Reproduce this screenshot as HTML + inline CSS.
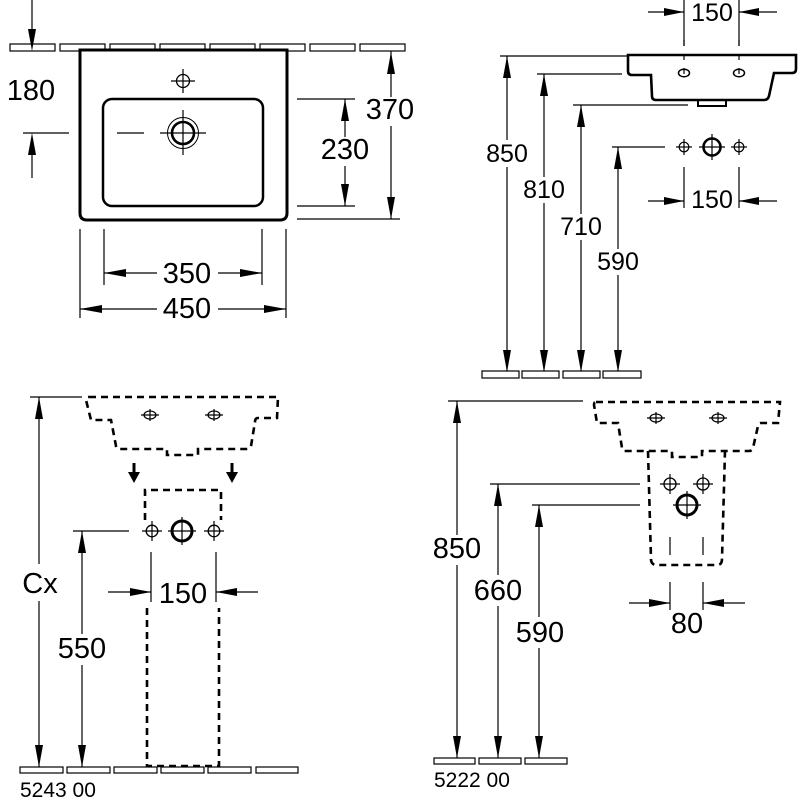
<!DOCTYPE html>
<html><head><meta charset="utf-8"><style>
html,body{margin:0;padding:0;background:#fff;}
svg{display:block;}
text{font-family:"Liberation Sans",Arial,sans-serif;fill:#000;}
</style></head><body>
<svg width="800" height="800" viewBox="0 0 800 800" xmlns="http://www.w3.org/2000/svg">
<rect width="800" height="800" fill="#fff"/>
<g stroke="#000" fill="none" stroke-width="1.2">
<!-- ===== TOP-LEFT: plan view ===== -->
<rect x="10" y="44" width="45" height="7" fill="#fff"/>
<rect x="60" y="44" width="45" height="7" fill="#fff"/>
<rect x="110" y="44" width="45" height="7" fill="#fff"/>
<rect x="160" y="44" width="45" height="7" fill="#fff"/>
<rect x="210" y="44" width="45" height="7" fill="#fff"/>
<rect x="260" y="44" width="45" height="7" fill="#fff"/>
<rect x="310" y="44" width="45" height="7" fill="#fff"/>
<rect x="360" y="44" width="45" height="7" fill="#fff"/>
<line x1="32" y1="0" x2="32" y2="32"/>
<!-- basin -->
<path d="M80 50 H287 V213 Q287 220 280 220 H87 Q80 220 80 213 Z" stroke-width="3" fill="#fff"/>
<rect x="103" y="99" width="160" height="107" rx="9" stroke-width="2.5"/>
<circle cx="183" cy="81" r="6.5" stroke-width="1.3"/>
<line x1="171" y1="81" x2="195" y2="81"/><line x1="183" y1="69" x2="183" y2="93"/>
<circle cx="183" cy="133" r="15.5" stroke-width="1"/>
<circle cx="183" cy="133" r="11" stroke-width="2.6"/>
<line x1="160" y1="133" x2="206" y2="133"/><line x1="183" y1="110" x2="183" y2="155"/>
<line x1="117" y1="133" x2="144" y2="133"/>
<line x1="23" y1="133" x2="69" y2="133"/>
<line x1="32" y1="150" x2="32" y2="178"/>
<!-- right dims -->
<line x1="297" y1="99" x2="355" y2="99"/>
<line x1="297" y1="206" x2="355" y2="206"/>
<line x1="297" y1="219" x2="400" y2="219"/>
<line x1="345" y1="99" x2="345" y2="137"/>
<line x1="345" y1="166" x2="345" y2="206"/>
<line x1="391" y1="51" x2="391" y2="97"/>
<line x1="391" y1="126" x2="391" y2="219"/>
<!-- bottom dims -->
<line x1="80" y1="229" x2="80" y2="318"/>
<line x1="104" y1="229" x2="104" y2="285"/>
<line x1="262" y1="229" x2="262" y2="285"/>
<line x1="286" y1="229" x2="286" y2="318"/>
<line x1="104" y1="273" x2="157" y2="273"/>
<line x1="218" y1="273" x2="262" y2="273"/>
<line x1="80" y1="309" x2="157" y2="309"/>
<line x1="218" y1="309" x2="286" y2="309"/>

<!-- ===== TOP-RIGHT: side view ===== -->
<line x1="684" y1="0" x2="684" y2="46"/>
<line x1="739" y1="0" x2="739" y2="46"/>
<line x1="648" y1="12" x2="684" y2="12"/>
<line x1="739" y1="12" x2="777" y2="12"/>
<path d="M628 55 H796 V69 Q796 73 792 73 H774 L769 96 Q768 100 764 100 H656 Q652 100 652 96 L651 75 H632 Q628 75 628 71 Z" stroke-width="2.6" fill="#fff"/>
<path d="M698 100 V106 H726 V100" stroke-width="2"/>
<line x1="684" y1="40" x2="684" y2="80" stroke-dasharray="6 8"/>
<line x1="739" y1="40" x2="739" y2="80" stroke-dasharray="6 8"/>
<ellipse cx="684" cy="73" rx="5.5" ry="3.8" stroke-width="1.5"/>
<ellipse cx="739" cy="73" rx="5.5" ry="3.8" stroke-width="1.5"/>
<line x1="500" y1="56" x2="627" y2="56"/>
<line x1="537" y1="74" x2="622" y2="74"/>
<line x1="573" y1="105" x2="688" y2="105"/>
<line x1="612" y1="147" x2="665" y2="147"/>
<line x1="507" y1="56" x2="507" y2="140"/>
<line x1="507" y1="167" x2="507" y2="372"/>
<line x1="544" y1="74" x2="544" y2="177"/>
<line x1="544" y1="203" x2="544" y2="372"/>
<line x1="581" y1="105" x2="581" y2="214"/>
<line x1="581" y1="240" x2="581" y2="372"/>
<line x1="618" y1="147" x2="618" y2="249"/>
<line x1="618" y1="275" x2="618" y2="372"/>
<rect x="482" y="371" width="37" height="7" fill="#fff"/>
<rect x="522" y="371" width="37" height="7" fill="#fff"/>
<rect x="563" y="371" width="37" height="7" fill="#fff"/>
<rect x="603" y="371" width="38" height="7" fill="#fff"/>
<circle cx="684" cy="147" r="4.8"/>
<line x1="676" y1="147" x2="692" y2="147"/><line x1="684" y1="139" x2="684" y2="155"/>
<circle cx="739" cy="147" r="4.8"/>
<line x1="731" y1="147" x2="747" y2="147"/><line x1="739" y1="139" x2="739" y2="155"/>
<circle cx="712" cy="147" r="8.5" stroke-width="2.6"/>
<line x1="699" y1="147" x2="725" y2="147"/><line x1="712" y1="134" x2="712" y2="160"/>
<line x1="684" y1="167" x2="684" y2="208"/>
<line x1="739" y1="167" x2="739" y2="208"/>
<line x1="648" y1="201" x2="684" y2="201"/>
<line x1="739" y1="201" x2="777" y2="201"/>

<!-- ===== BOTTOM-LEFT ===== -->
<path d="M89 397 H278 L277 418 H258 Q255 418 255 422 L251 446 Q250 449 247 449 H198 V455 H167 V449 H119 Q116 449 116 446 L111 420 H91 L86 400 Q86 397 89 397 Z" stroke-width="2.6" stroke-dasharray="7 5"/>
<ellipse cx="150" cy="415" rx="6" ry="4" stroke-width="1.2"/>
<line x1="141" y1="415" x2="159" y2="415"/><line x1="150" y1="409" x2="150" y2="421"/>
<ellipse cx="214" cy="415" rx="6" ry="4" stroke-width="1.2"/>
<line x1="205" y1="415" x2="223" y2="415"/><line x1="214" y1="409" x2="214" y2="421"/>
<path d="M145 520 V490 H221 V520" stroke-width="2.6" stroke-dasharray="7 5"/>
<circle cx="152" cy="531" r="5.8" stroke-width="1.3"/>
<line x1="142" y1="531" x2="162" y2="531"/><line x1="152" y1="521" x2="152" y2="541"/>
<circle cx="214" cy="531" r="5.8" stroke-width="1.3"/>
<line x1="204" y1="531" x2="224" y2="531"/><line x1="214" y1="521" x2="214" y2="541"/>
<circle cx="182" cy="531" r="10" stroke-width="3"/>
<line x1="168" y1="531" x2="196" y2="531"/><line x1="182" y1="517" x2="182" y2="545"/>
<line x1="73" y1="531" x2="129" y2="531"/>
<line x1="30" y1="397" x2="82" y2="397"/>
<line x1="39" y1="397" x2="39" y2="564"/>
<line x1="39" y1="601" x2="39" y2="767"/>
<line x1="82" y1="531" x2="82" y2="634"/>
<line x1="82" y1="665" x2="82" y2="767"/>
<line x1="151" y1="552" x2="151" y2="602"/>
<line x1="216" y1="552" x2="216" y2="602"/>
<line x1="108" y1="592" x2="151" y2="592"/>
<line x1="216" y1="592" x2="258" y2="592"/>
<rect x="20" y="767" width="43" height="6" fill="#fff"/>
<rect x="67" y="767" width="43" height="6" fill="#fff"/>
<rect x="114" y="767" width="43" height="6" fill="#fff"/>
<rect x="161" y="767" width="43" height="6" fill="#fff"/>
<rect x="208" y="767" width="43" height="6" fill="#fff"/>
<rect x="256" y="767" width="42" height="6" fill="#fff"/>
<path d="M147 608 V766 H219 V608" stroke-width="2.6" stroke-dasharray="7 5"/>

<!-- ===== BOTTOM-RIGHT ===== -->
<path d="M596 402 H780 L778 423 H761 Q758 423 758 426 L753 448 Q752 451 749 451 H702 V457 H672 V451 H625 Q622 451 622 448 L618 423 H597 L594 405 Q594 402 596 402 Z" stroke-width="2.6" stroke-dasharray="7 5"/>
<ellipse cx="656" cy="418" rx="6" ry="4" stroke-width="1.2"/>
<line x1="647" y1="418" x2="665" y2="418"/><line x1="656" y1="412" x2="656" y2="424"/>
<ellipse cx="718" cy="418" rx="6" ry="4" stroke-width="1.2"/>
<line x1="709" y1="418" x2="727" y2="418"/><line x1="718" y1="412" x2="718" y2="424"/>
<path d="M648 451 L651 559 Q651 565 657 565 H717 Q722 565 722 559 L725 451" stroke-width="2.6" stroke-dasharray="7 5"/>
<circle cx="670" cy="484" r="6" stroke-width="1.3"/>
<line x1="660" y1="484" x2="680" y2="484"/><line x1="670" y1="474" x2="670" y2="494"/>
<circle cx="703" cy="484" r="6" stroke-width="1.3"/>
<line x1="693" y1="484" x2="713" y2="484"/><line x1="703" y1="474" x2="703" y2="494"/>
<circle cx="687" cy="505" r="10" stroke-width="3"/>
<line x1="673" y1="505" x2="701" y2="505"/><line x1="687" y1="491" x2="687" y2="519"/>
<line x1="670" y1="537" x2="670" y2="555"/>
<line x1="703" y1="537" x2="703" y2="555"/>
<line x1="448" y1="401" x2="583" y2="401"/>
<line x1="490" y1="484" x2="640" y2="484"/>
<line x1="532" y1="505" x2="640" y2="505"/>
<line x1="457" y1="401" x2="457" y2="535"/>
<line x1="457" y1="565" x2="457" y2="758"/>
<line x1="498" y1="484" x2="498" y2="575"/>
<line x1="498" y1="606" x2="498" y2="758"/>
<line x1="539" y1="505" x2="539" y2="617"/>
<line x1="539" y1="648" x2="539" y2="758"/>
<line x1="670" y1="582" x2="670" y2="610"/>
<line x1="703" y1="582" x2="703" y2="610"/>
<line x1="629" y1="603" x2="670" y2="603"/>
<line x1="703" y1="603" x2="745" y2="603"/>
<rect x="434" y="758" width="41" height="6" fill="#fff"/>
<rect x="479" y="758" width="42" height="6" fill="#fff"/>
<rect x="525" y="758" width="42" height="6" fill="#fff"/>
</g>

<!-- arrowheads -->
<g fill="#000" stroke="none">
<polygon points="32,51 28,29 36,29"/>
<polygon points="32,133 28,155 36,155"/>
<polygon points="345,99 341,121 349,121"/>
<polygon points="345,206 341,184 349,184"/>
<polygon points="391,52 387,74 395,74"/>
<polygon points="391,219 387,197 395,197"/>
<polygon points="104,273 126,269 126,277"/>
<polygon points="262,273 240,269 240,277"/>
<polygon points="80,309 102,305 102,313"/>
<polygon points="286,309 264,305 264,313"/>

<polygon points="684,12 664,8 664,16"/>
<polygon points="739,12 759,8 759,16"/>
<polygon points="684,201 664,197 664,205"/>
<polygon points="739,201 759,197 759,205"/>
<polygon points="507,56 503,78 511,78"/>
<polygon points="507,372 503,350 511,350"/>
<polygon points="544,74 540,96 548,96"/>
<polygon points="544,372 540,350 548,350"/>
<polygon points="581,105 577,127 585,127"/>
<polygon points="581,372 577,350 585,350"/>
<polygon points="618,147 614,169 622,169"/>
<polygon points="618,372 614,350 622,350"/>

<rect x="132.5" y="463" width="3" height="11"/>
<polygon points="128,472 140,472 134,483"/>
<rect x="230.5" y="463" width="3" height="11"/>
<polygon points="226,472 238,472 232,483"/>
<polygon points="39,397 35,419 43,419"/>
<polygon points="39,767 35,745 43,745"/>
<polygon points="82,531 78,553 86,553"/>
<polygon points="82,767 78,745 86,745"/>
<polygon points="151,592 130,588 130,596"/>
<polygon points="216,592 237,588 237,596"/>

<polygon points="457,401 453,423 461,423"/>
<polygon points="457,758 453,736 461,736"/>
<polygon points="498,484 494,506 502,506"/>
<polygon points="498,758 494,736 502,736"/>
<polygon points="539,505 535,527 543,527"/>
<polygon points="539,758 535,736 543,736"/>
<polygon points="670,603 649,599 649,607"/>
<polygon points="703,603 724,599 724,607"/>
</g>

<!-- labels -->
<g font-size="29" text-anchor="middle">
<text x="31" y="100">180</text>
<text x="345" y="159">230</text>
<text x="390" y="119">370</text>
<text x="187" y="283">350</text>
<text x="187" y="318">450</text>
<text x="40" y="593">Cx</text>
<text x="82" y="658">550</text>
<text x="183" y="603">150</text>
<text x="457" y="558">850</text>
<text x="498" y="600">660</text>
<text x="540" y="642">590</text>
<text x="687" y="633">80</text>
</g>
<g font-size="25" text-anchor="middle">
<text x="712" y="21">150</text>
<text x="507" y="162">850</text>
<text x="544" y="198">810</text>
<text x="581" y="235">710</text>
<text x="618" y="270">590</text>
<text x="712" y="208">150</text>
</g>
<g font-size="21">
<text x="20" y="797">5243 00</text>
<text x="434" y="787">5222 00</text>
</g>
</svg>
</body></html>
